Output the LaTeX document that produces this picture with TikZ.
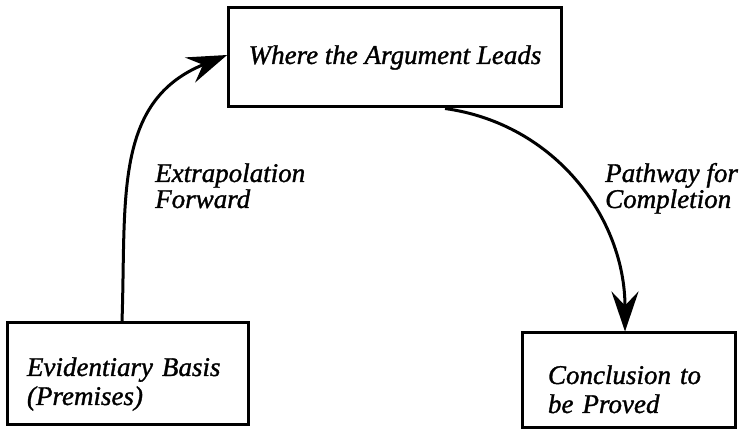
\documentclass[tikz,border=0pt]{standalone}
\usepackage{fontspec}
\setmainfont{Liberation Serif}[ItalicFont={Liberation Serif Italic}, ItalicFeatures={FakeBold=1.2}]
\usetikzlibrary{positioning,arrows.meta}

\begin{document}
\begin{tikzpicture}[
x=1pt, y=1pt,
argnode/.style={rectangle, draw=black, line width=3pt, align=left, inner xsep=20pt, font=\itshape\fontsize{27}{29}\selectfont},
labelnode/.style={align=left, inner sep=0pt, font=\itshape\fontsize{27}{26}\selectfont},
pathline/.style={line width=3pt, -{Stealth[length=40pt, width=27pt, inset=14pt]}},
]
\useasboundingbox (0,0) rectangle (740,431);
%Nodes
\node[argnode, minimum width=316pt, minimum height=99pt] (leads) at (395,373.5) {Where the Argument Leads};
\node[argnode, text width=201pt, minimum height=102pt, text height=20pt, text depth=16pt] (basis) at (127.5,57) {Evidentiary Basis\\(Premises)};
\node[argnode, text width=161pt, inner xsep=26pt, minimum height=95pt, text height=20pt, text depth=13pt] (proved) at (628.5,50.5) {Conclusion to\\be Proved};
\node[labelnode, anchor=base west] (extrap) at (155,223) {Extrapolation\\Forward};
\node[labelnode, anchor=base west] (pathway) at (605,223) {Pathway for\\Completion};

%Lines
\draw[pathline] ([xshift=-5.5pt]basis.north) to[out=88, in=202, looseness=1.1] ([yshift=2.5pt]leads.west);
\draw[pathline] ([xshift=50pt]leads.south) to[out=-8, in=90] ([xshift=-3.5pt]proved.north);

\end{tikzpicture}
\end{document}
